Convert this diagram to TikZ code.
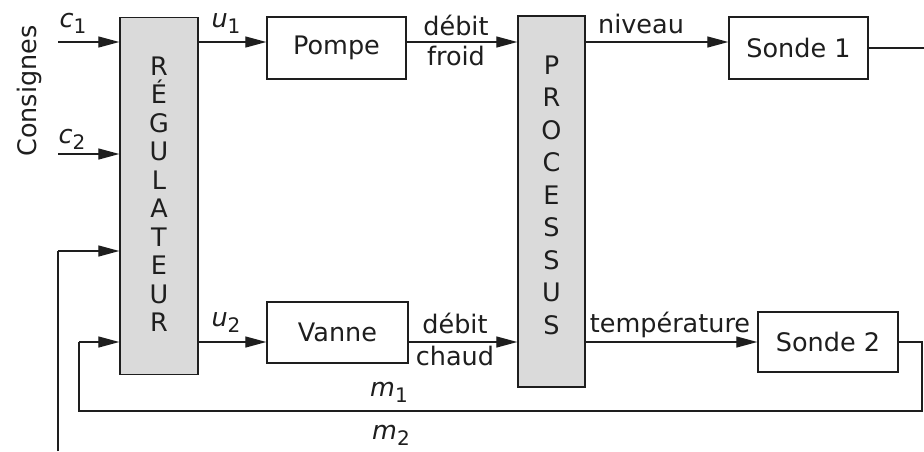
\documentclass[tikz,border=0pt]{standalone}
\usepackage{fontspec}
\setmainfont{DejaVu Sans}
\usetikzlibrary{arrows.meta}
\definecolor{boxgray}{HTML}{DADADA}
\definecolor{ink}{HTML}{1E1E1E}
\newcommand{\varsub}[2]{\textit{#1}\raisebox{-6pt}{\fontsize{20}{24}\selectfont #2}}
\tikzset{
  tall/.style={draw=ink, fill=boxgray, line width=1.4pt, inner sep=0pt},
  blk/.style={draw=ink, line width=1.4pt, inner sep=0pt, text=ink},
  arr/.style={draw=ink, line width=1.3pt, -{Triangle[length=21pt,width=11pt]}},
  ln/.style={draw=ink, line width=1.3pt},
  lbl/.style={inner sep=0pt, text=ink}
}
\begin{document}
\begin{tikzpicture}[x=1pt,y=-1pt, every node/.style={font=\fontsize{25.5}{30}\selectfont}]
\useasboundingbox[fill=white] (0,0) rectangle (924,451);

% big blocks
\node[tall, minimum width=78pt, minimum height=357pt] (reg) at (159,196) {};
\node[tall, minimum width=67pt, minimum height=371pt] (proc) at (551.5,201.5) {};
\node[lbl, align=center, font=\fontsize{25.5}{28.5}\selectfont] (regtxt) at (159,194) {R\\É\\G\\U\\L\\A\\T\\E\\U\\R};
\node[lbl, align=center, font=\fontsize{25.5}{32.5}\selectfont] (proctxt) at (551.5,195) {P\\R\\O\\C\\E\\S\\S\\U\\S};

% small blocks
\node[blk, minimum width=139pt, minimum height=62pt] (pompe) at (336.5,48) {Pompe};
\node[blk, minimum width=141pt, minimum height=61pt] (vanne) at (337.5,332.5) {Vanne};
\node[blk, minimum width=139pt, minimum height=62pt] (sonde1) at (798.5,48) {Sonde 1};
\node[blk, minimum width=140pt, minimum height=60pt] (sonde2) at (828,342) {Sonde 2};

% level coordinates
\coordinate (yA) at (0,42);
\coordinate (yC) at (0,154);
\coordinate (yM) at (0,251);
\coordinate (yB) at (0,342);
\coordinate (c1s) at (58,42);
\coordinate (c2s) at (58,154);
\coordinate (m2s) at (58,451);
\coordinate (m2c) at (58,251);
\coordinate (s1e) at (924,48);
\coordinate (s2r) at (922,342);
\coordinate (s2d) at (922,411);
\coordinate (m1l) at (79,411);
\coordinate (m1c) at (79,342);

% inputs
\draw[arr] (c1s) -- (reg.west |- yA);
\draw[arr] (c2s) -- (reg.west |- yC);
\draw[ln] (m2s) -- (m2c);
\draw[arr] (m2c) -- (reg.west |- yM);

% top chain
\draw[arr] (reg.east |- yA) -- (pompe.west |- yA);
\draw[arr] (pompe.east |- yA) -- (proc.west |- yA);
\draw[arr] (proc.east |- yA) -- (sonde1.west |- yA);
\draw[ln] (sonde1.east) -- (s1e);

% bottom chain
\draw[arr] (reg.east |- yB) -- (vanne.west |- yB);
\draw[arr] (vanne.east |- yB) -- (proc.west |- yB);
\draw[arr] (proc.east |- yB) -- (sonde2.west |- yB);
\draw[ln] (sonde2.east) -- (s2r) -- (s2d) -- (m1l) -- (m1c);
\draw[arr] (m1c) -- (reg.west |- yB);

% labels
\node[lbl, rotate=90] (cons) at (29,91) {Consignes};
\node[lbl] (lc1) at (73,23) {\varsub{c}{1}};
\node[lbl] (lc2) at (72,139) {\varsub{c}{2}};
\node[lbl] (lu1) at (226,24) {\varsub{u}{1}};
\node[lbl] (lu2) at (226,323) {\varsub{u}{2}};
\node[lbl] (ld1) at (456,25) {débit};
\node[lbl] (lf1) at (456,56) {froid};
\node[lbl] (ld2) at (455,323) {débit};
\node[lbl] (lch) at (455,356) {chaud};
\node[lbl] (lniv) at (641,24) {niveau};
\node[lbl] (ltemp) at (670,325) {température};
\node[lbl] (lm1) at (389,392) {\varsub{m}{1}};
\node[lbl] (lm2) at (391,435) {\varsub{m}{2}};
\end{tikzpicture}
\end{document}
